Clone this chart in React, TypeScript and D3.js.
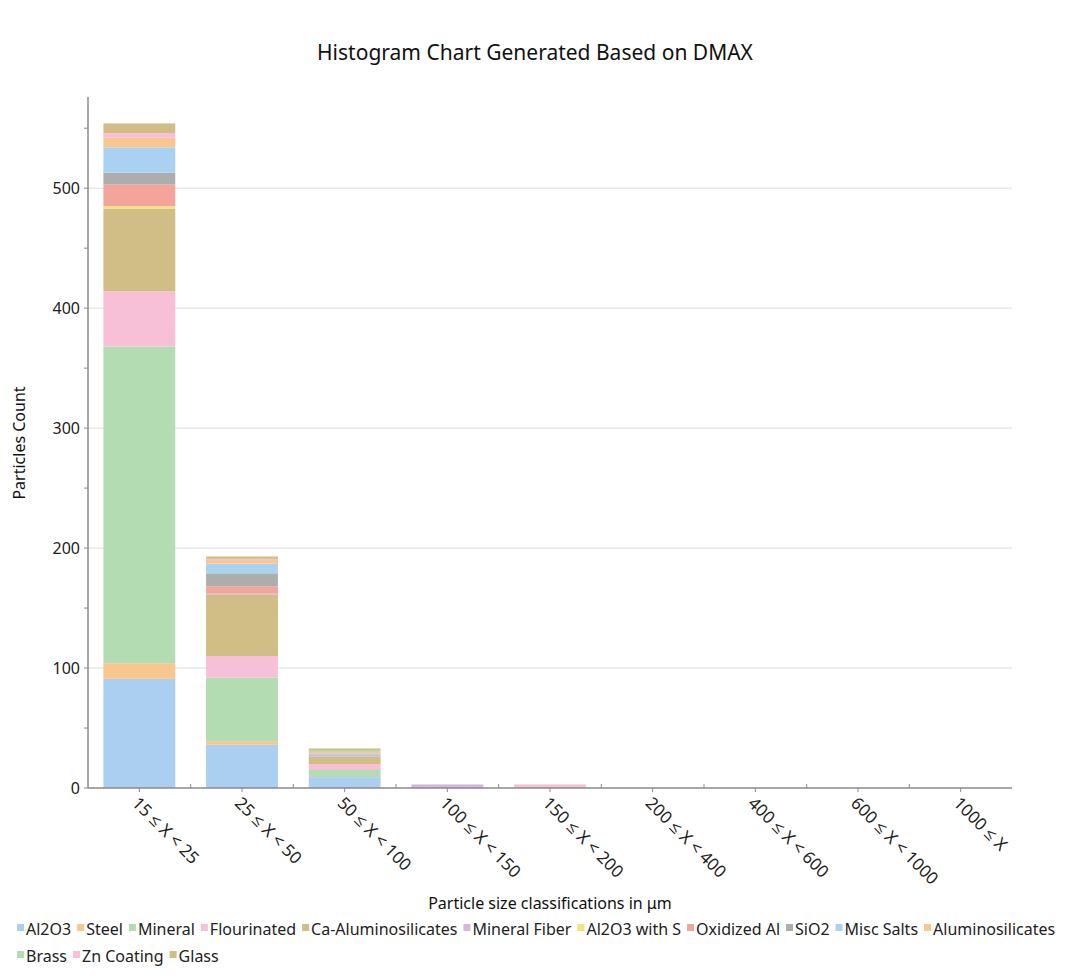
import { useEffect, useRef } from "react";
import * as d3 from "d3";

const categories = [
  "15 ≤ X < 25",
  "25 ≤ X < 50",
  "50 ≤ X < 100",
  "100 ≤ X < 150",
  "150 ≤ X < 200",
  "200 ≤ X < 400",
  "400 ≤ X < 600",
  "600 ≤ X < 1000",
  "1000 ≤ X",
];

const seriesNames = [
  "Al2O3",
  "Steel",
  "Mineral",
  "Flourinated",
  "Ca-Aluminosilicates",
  "Mineral Fiber",
  "Al2O3 with S",
  "Oxidized Al",
  "SiO2",
  "Misc Salts",
  "Aluminosilicates",
  "Brass",
  "Zn Coating",
  "Glass",
];

const seriesColors = [
  "#aacff0",
  "#f9c68e",
  "#b3dcb3",
  "#f8c0d7",
  "#d1bd86",
  "#d4b7dd",
  "#f4e37a",
  "#f3a49b",
  "#adadad",
  "#a9d2f2",
  "#f9c68e",
  "#b3dcb3",
  "#f8c0d7",
  "#d1bd86",
];

// counts per series, one value per category
const al2o3 = [91, 36, 9, 0, 0, 0, 0, 0, 0];
const steel = [13, 3, 0, 0, 0, 0, 0, 0, 0];
const mineral = [264, 53, 6, 0, 0, 0, 0, 0, 0];
const flourinated = [46, 18, 5, 0, 3, 0, 0, 0, 0];
const caAlumino = [69, 51, 6, 0, 0, 0, 0, 0, 0];
const mineralFiber = [0, 1, 1, 3, 0, 0, 0, 0, 0];
const al2o3WithS = [2, 0, 0, 0, 0, 0, 0, 0, 0];
const oxidizedAl = [18, 6, 0, 0, 0, 0, 0, 0, 0];
const sio2 = [10, 11, 1, 0, 0, 0, 0, 0, 0];
const miscSalts = [21, 8, 1, 0, 0, 0, 0, 0, 0];
const aluminosilicates = [8, 3, 1, 0, 0, 0, 0, 0, 0];
const brass = [0, 0, 1, 0, 0, 0, 0, 0, 0];
const znCoating = [4, 1, 0, 0, 0, 0, 0, 0, 0];
const glass = [8, 2, 2, 0, 0, 0, 0, 0, 0];

const seriesValues = [
  al2o3,
  steel,
  mineral,
  flourinated,
  caAlumino,
  mineralFiber,
  al2o3WithS,
  oxidizedAl,
  sio2,
  miscSalts,
  aluminosilicates,
  brass,
  znCoating,
  glass,
];

const yTicks = [0, 100, 200, 300, 400, 500];
const yMinorTicks = [50, 150, 250, 350, 450, 550];

const FONT = "'Noto Sans', 'Open Sans', sans-serif";

export default function App() {
  const ref = useRef<SVGSVGElement | null>(null);

  useEffect(() => {
    document.body.style.margin = "0";
    if (!ref.current) return;
    const svg = d3.select(ref.current);
    svg.selectAll("*").remove();

    const W = 1080;
    const m = { t: 97, l: 88, r: 1012, b: 788 };

    const x = d3
      .scaleBand()
      .domain(categories)
      .range([m.l, m.r])
      .paddingInner(0.3)
      .paddingOuter(0.15);
    const xFull = d3.scaleBand().domain(categories).range([m.l, m.r]);

    const y = d3.scaleLinear().domain([0, 576]).range([m.b, m.t]);

    // ── Title ───────────────────────────────────────────────────────────────
    svg
      .append("text")
      .attr("x", 535)
      .attr("y", 60)
      .attr("text-anchor", "middle")
      .attr("font-family", FONT)
      .attr("font-size", 21)
      .attr("fill", "#111")
      .text("Histogram Chart Generated Based on DMAX");

    // ── Grid ────────────────────────────────────────────────────────────────
    svg
      .append("g")
      .selectAll("line")
      .data(yTicks.filter((t) => t > 0))
      .enter()
      .append("line")
      .attr("x1", m.l)
      .attr("x2", m.r)
      .attr("y1", (d) => y(d))
      .attr("y2", (d) => y(d))
      .attr("stroke", "#dcdcdc")
      .attr("stroke-width", 1);

    // ── Stacked bars ────────────────────────────────────────────────────────
    const rows = categories.map((c, i) => {
      const r: Record<string, number | string> = { cat: c };
      seriesNames.forEach((s, k) => (r[s] = seriesValues[k][i]));
      return r;
    });
    const stacked = d3.stack<Record<string, number | string>>().keys(seriesNames)(rows);

    stacked.forEach((layer, k) => {
      svg
        .append("g")
        .selectAll("rect")
        .data(layer.filter((d) => d[1] - d[0] > 0))
        .enter()
        .append("rect")
        .attr("x", (d) => x(d.data.cat as string) as number)
        .attr("y", (d) => y(d[1]))
        .attr("width", x.bandwidth())
        .attr("height", (d) => y(d[0]) - y(d[1]))
        .attr("fill", seriesColors[k]);
    });

    // ── Y axis ──────────────────────────────────────────────────────────────
    const yAxis = svg.append("g");
    yAxis
      .append("line")
      .attr("x1", m.l)
      .attr("x2", m.l)
      .attr("y1", m.t)
      .attr("y2", m.b)
      .attr("stroke", "#8a8a8a")
      .attr("stroke-width", 1.5);
    yAxis
      .selectAll("line.tick")
      .data([...yTicks, ...yMinorTicks])
      .enter()
      .append("line")
      .attr("class", "tick")
      .attr("x1", m.l - 4)
      .attr("x2", m.l)
      .attr("y1", (d) => y(d))
      .attr("y2", (d) => y(d))
      .attr("stroke", "#8a8a8a");
    yAxis
      .selectAll("text")
      .data(yTicks)
      .enter()
      .append("text")
      .attr("x", m.l - 8)
      .attr("y", (d) => y(d))
      .attr("dy", "0.35em")
      .attr("text-anchor", "end")
      .attr("font-family", FONT)
      .attr("font-size", 16)
      .attr("fill", "#222")
      .text((d) => String(d));

    svg
      .append("text")
      .attr("transform", `translate(25,443) rotate(-90)`)
      .attr("text-anchor", "middle")
      .attr("font-family", FONT)
      .attr("font-size", 16)
      .attr("fill", "#111")
      .text("Particles Count");

    // ── X axis ──────────────────────────────────────────────────────────────
    const xAxis = svg.append("g");
    xAxis
      .append("line")
      .attr("x1", m.l)
      .attr("x2", m.r)
      .attr("y1", m.b)
      .attr("y2", m.b)
      .attr("stroke", "#8a8a8a")
      .attr("stroke-width", 1.5);
    xAxis
      .selectAll("line.major")
      .data(categories)
      .enter()
      .append("line")
      .attr("class", "major")
      .attr("x1", (d) => (xFull(d) as number) + xFull.bandwidth() / 2)
      .attr("x2", (d) => (xFull(d) as number) + xFull.bandwidth() / 2)
      .attr("y1", m.b)
      .attr("y2", m.b + 4)
      .attr("stroke", "#8a8a8a");
    xAxis
      .selectAll("line.minor")
      .data(categories.slice(1))
      .enter()
      .append("line")
      .attr("class", "minor")
      .attr("x1", (d) => xFull(d) as number)
      .attr("x2", (d) => xFull(d) as number)
      .attr("y1", m.b - 4)
      .attr("y2", m.b)
      .attr("stroke", "#8a8a8a");
    xAxis
      .selectAll("text")
      .data(categories)
      .enter()
      .append("text")
      .attr(
        "transform",
        (d) =>
          `translate(${(xFull(d) as number) + xFull.bandwidth() / 2 - 4},${m.b + 12}) rotate(45)`
      )
      .attr("dy", "0.35em")
      .attr("text-anchor", "start")
      .attr("font-family", FONT)
      .attr("font-size", 17)
      .attr("fill", "#222")
      .text((d) => d);

    svg
      .append("text")
      .attr("x", 550)
      .attr("y", 909)
      .attr("text-anchor", "middle")
      .attr("font-family", FONT)
      .attr("font-size", 16)
      .attr("fill", "#111")
      .text("Particle size classifications in μm");

    // ── Legend ──────────────────────────────────────────────────────────────
    const legend = svg.append("g");
    let lx = 17;
    let ly = 935;
    const maxX = W - 20;
    seriesNames.forEach((name, k) => {
      const item = legend.append("g");
      const t = item
        .append("text")
        .attr("font-family", FONT)
        .attr("font-size", 16)
        .attr("fill", "#222")
        .text(name);
      const tw = (t.node() as SVGTextElement).getComputedTextLength();
      const iw = 9 + tw + 6;
      if (lx + iw > maxX + 6) {
        lx = 17;
        ly += 27;
      }
      item
        .append("rect")
        .attr("x", lx)
        .attr("y", ly - 11)
        .attr("width", 7)
        .attr("height", 7)
        .attr("fill", seriesColors[k]);
      t.attr("x", lx + 9).attr("y", ly);
      lx += iw;
    });
  }, []);

  return (
    <svg
      ref={ref}
      width={1080}
      height={979}
      style={{ display: "block", background: "#fff" }}
    />
  );
}
